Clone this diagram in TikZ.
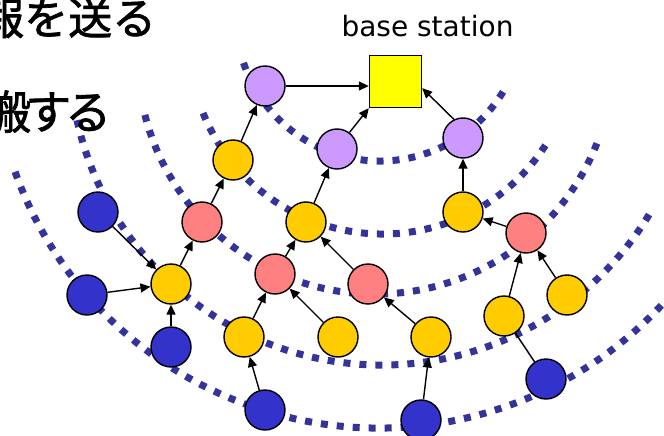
\documentclass[tikz,border=0pt]{standalone}
\usepackage{fontspec}
\newfontfamily\jpfont{Noto Sans CJK JP}[FakeBold=1.6]
\newfontfamily\dvfont{DejaVu Sans}
\usetikzlibrary{arrows.meta,calc}
\definecolor{ringc}{HTML}{333399}
\definecolor{bluec}{HTML}{3333CC}
\definecolor{yelc}{HTML}{FFCC00}
\definecolor{redc}{HTML}{FF8080}
\definecolor{purc}{HTML}{CC99FF}
\definecolor{bsc}{HTML}{FFFF00}
\begin{document}
\begin{tikzpicture}[x=1pt,y=1pt,
  ring/.style={draw=ringc,line width=7pt,dash pattern=on 7pt off 9pt},
  sensor/.style={circle,draw=black,line width=1.4pt,minimum size=40pt,inner sep=0pt},
  bluen/.style={sensor,fill=bluec},
  yeln/.style={sensor,fill=yelc},
  redn/.style={sensor,fill=redc},
  purn/.style={sensor,fill=purc},
  bsbox/.style={draw=black,line width=1.4pt,fill=bsc,minimum size=52pt,inner sep=0pt},
  link/.style={draw=black,line width=1.4pt,-{Triangle[length=10pt,width=9pt]}},
  plainlink/.style={draw=black,line width=1.4pt}]
\useasboundingbox (0,0) rectangle (664,-436);
\clip (0,0) rectangle (664,-436);
% rings
\draw[ring] (380,-17) ++(198.6:144pt) arc[start angle=198.6,end angle=331.8,radius=144pt];
\draw[ring] (382.6,-40.2) ++(202.1:193.8pt) arc[start angle=202.1,end angle=329.7,radius=193.8pt];
\draw[ring] (375.5,-56.1) ++(194.3:238pt) arc[start angle=194.3,end angle=338.6,radius=238pt];
\draw[ring] (382,-52.6) ++(192.5:312.4pt) arc[start angle=192.5,end angle=330.2,radius=312.4pt];
\draw[ring] (378.9,-41.5) ++(199.7:386.5pt) arc[start angle=199.7,end angle=325,radius=386.5pt];
% texts
\node[anchor=base west,inner sep=0pt] (t1) at (-20,-34.5) {\fontsize{44pt}{44pt}\selectfont\jpfont 報を送る};
\node[anchor=base west,inner sep=0pt] (t2) at (-15,-129) {\fontsize{46pt}{46pt}\selectfont\jpfont 搬\kern-6pt す\kern-6pt る};
\node[anchor=base,inner sep=0pt] (bslabel) at (427.5,-37) {\fontsize{28pt}{28pt}\selectfont\dvfont base station};
% nodes
\node[bsbox] (BS) at (395.5,-81.5) {};
\node[purn] (P1) at (265,-86) {};
\node[purn] (P2) at (337,-149) {};
\node[purn] (P3) at (463,-138) {};
\node[yeln] (Y1) at (233,-160) {};
\node[yeln] (Y2) at (171,-284) {};
\node[yeln] (Y3) at (306,-222) {};
\node[yeln] (Y4) at (244,-337) {};
\node[yeln] (Y5) at (338,-337) {};
\node[yeln] (Y6) at (463,-212) {};
\node[yeln] (Y7) at (431,-337) {};
\node[yeln] (Y8) at (504,-316) {};
\node[yeln] (Y9) at (567,-295) {};
\node[redn] (R1) at (202,-222) {};
\node[redn] (R2) at (275,-274) {};
\node[redn] (R3) at (526,-233) {};
\node[redn] (R4) at (368,-284) {};
\node[bluen] (B1) at (98,-212) {};
\node[bluen] (B2) at (87,-295) {};
\node[bluen] (B3) at (171,-347) {};
\node[bluen] (B4) at (265,-410) {};
\node[bluen] (B5) at (546,-379) {};
\node[bluen] (B6) at (421,-420) {};
% connectors
\draw[link] (P1.east) -- (P1.east -| BS.west);
\draw[link] (P2.53) -- (BS.south west);
\draw[link] (P3.116) -- (BS.-14);
\draw[link] (Y1) -- (P1);
\draw[link] (R1) -- (Y1);
\draw[link] (Y2) -- (R1);
\draw[link] (B1) -- (Y2);
\draw[link] (B2) -- (Y2);
\draw[link] (B3) -- (Y2);
\draw[link] (Y3) -- (P2);
\draw[link] (R2) -- (Y3);
\draw[link] (R4) -- (Y3);
\draw[link] (Y4) -- (R2);
\draw[link] (Y5) -- (R2);
\draw[link] (B4) -- (Y4);
\draw[link] (Y7) -- (R4);
\draw[link] (B6) -- (Y7);
\draw[link] (Y6) -- (P3);
\draw[link] (R3) -- (Y6);
\draw[link] (Y8) -- (R3);
\draw[link] (Y9) -- (R3);
\draw[plainlink] (B5) -- (Y8);
\end{tikzpicture}
\end{document}
